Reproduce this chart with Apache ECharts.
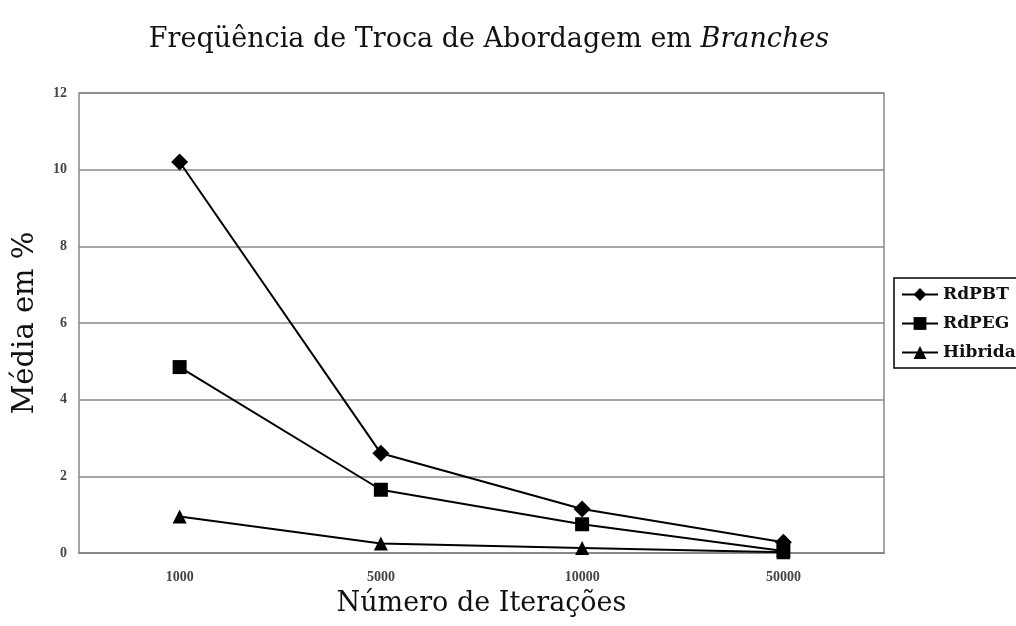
<!DOCTYPE html>
<html><head><meta charset="utf-8">
<script src="https://cdn.jsdelivr.net/npm/echarts@6/dist/echarts.min.js"></script>
<style>html,body{margin:0;padding:0;background:#fff}#c{width:1016px;height:626px}</style>
</head><body><div id="c"></div>
<script>
const categories = ['1000', '5000', '10000', '50000'];
const rdpbt = [10.2, 2.6, 1.15, 0.28];
const rdpeg = [4.85, 1.65, 0.75, 0.05];
const hibrida = [0.95, 0.25, 0.13, 0.02];
const yTicks = [0, 2, 4, 6, 8, 10, 12];

const serif = '"DejaVu Serif", "Liberation Serif", serif';
const tickFont = '"Liberation Serif", serif';
const chart = echarts.init(document.getElementById('c'), null, {renderer: 'canvas'});
function mk(name, data, symbol, size) {
  return {
    name, type: 'line', data, symbol, symbolSize: size,
    lineStyle: {color: '#000', width: 2},
    itemStyle: {color: '#000'},
    animation: false
  };
}
chart.setOption({
  backgroundColor: '#fff',
  title: {
    text: 'Freqüência de Troca de Abordagem em {i|Branches}',
    left: 484, top: 21, textAlign: 'center',
    textStyle: {fontFamily: serif, fontSize: 27, fontWeight: 'normal', color: '#111',
      rich: {i: {fontFamily: serif, fontSize: 27, fontStyle: 'italic', color: '#111'}}}
  },
  grid: {left: 79, right: 132, top: 93, bottom: 73, show: true, borderColor: '#888', borderWidth: 1.5},
  legend: {
    left: 894, top: 278, orient: 'vertical', itemGap: 12,
    itemWidth: 36, itemHeight: 16,
    borderColor: '#000', borderWidth: 1.5, padding: [8, 10, 7, 7],
    textStyle: {fontFamily: serif, fontSize: 17, fontWeight: 'bold', color: '#111'},
    data: ['RdPBT', 'RdPEG', 'Hibrida']
  },
  xAxis: {
    type: 'category', data: categories, boundaryGap: true,
    name: 'Número de Iterações', nameLocation: 'middle', nameGap: 37,
    nameTextStyle: {fontFamily: serif, fontSize: 27, color: '#111'},
    axisLine: {lineStyle: {color: '#888', width: 2}},
    axisTick: {show: false},
    axisLabel: {fontFamily: tickFont, fontSize: 14, color: '#444', fontWeight: 'bold', margin: 17}
  },
  yAxis: {
    type: 'value', min: yTicks[0], max: yTicks[yTicks.length - 1], interval: 2,
    name: 'Média em %', nameLocation: 'middle', nameGap: 39,
    nameTextStyle: {fontFamily: serif, fontSize: 29, color: '#111'},
    axisLine: {show: false}, axisTick: {show: false},
    splitLine: {lineStyle: {color: '#888', width: 1.5}},
    axisLabel: {fontFamily: tickFont, fontSize: 14, color: '#444', fontWeight: 'bold', margin: 12}
  },
  series: [
    mk('RdPBT', rdpbt, 'diamond', 17),
    mk('RdPEG', rdpeg, 'rect', 14),
    mk('Hibrida', hibrida, 'triangle', 14)
  ]
});
</script></body></html>
